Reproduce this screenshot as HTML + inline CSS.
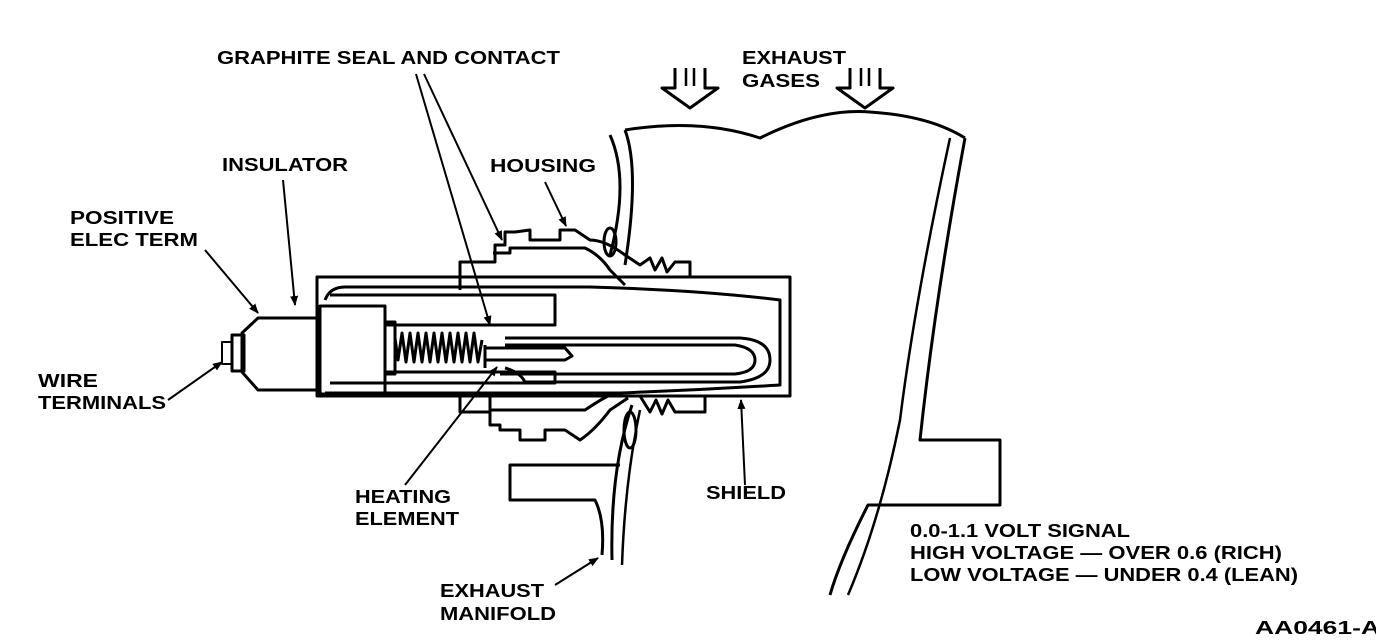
<!DOCTYPE html>
<html><head><meta charset="utf-8"><style>
html,body{margin:0;padding:0;background:#fff;width:1376px;height:640px;overflow:hidden}
text{font-family:"Liberation Sans",Arial,sans-serif;font-weight:bold;font-size:18px;fill:#000}
</style></head><body>
<svg width="1376" height="640" viewBox="0 0 1376 640" xmlns="http://www.w3.org/2000/svg">
<defs><marker id="a" markerWidth="10" markerHeight="10" refX="9" refY="5" orient="auto" markerUnits="userSpaceOnUse"><path d="M0,1 L10,5 L0,9 Z" fill="#000"/></marker></defs>
<g fill="none" stroke="#000" stroke-width="3" stroke-linejoin="round">
<!-- exhaust arrows -->
<path d="M675,68 V88 H662 L690,108 L718,88 H705 V68" />
<path d="M686,68 V86 M694,68 V86" stroke-width="2.5"/>
<path d="M850,68 V88 H837 L865,108 L893,88 H880 V68"/>
<path d="M861,68 V86 M869,68 V86" stroke-width="2.5"/>
<!-- manifold upper wall -->
<path d="M625,130 Q700,118 760,138 Q820,108 870,112 Q930,116 965,138"/>
<path d="M625,130 Q640,170 625,265"/>
<path d="M610,135 Q630,180 610,255"/>
<path d="M965,138 Q935,300 920,440 H1000 V505 H868 Q840,560 830,595"/>
<path d="M950,138 Q915,300 900,420 Q880,520 848,595" stroke-width="2.5"/>
<!-- manifold lower -->
<path d="M632,405 Q610,470 612,560"/>
<path d="M640,410 Q625,480 622,565" stroke-width="2.5"/>
<path d="M620,465 H510 V500 H595 Q605,520 602,555"/>
<!-- housing upper -->
<path d="M460,290 V262 H495 V245 H505 V232 H515 L530,230 V240 H560 V230 H575 L590,240 Q605,240 625,255 L640,265 L650,258 L655,270 L662,258 L667,272 L675,262 H690 V276"/>
<path d="M493,253 H510 V248 H585 Q600,255 610,270 L625,285"/>
<ellipse cx="610" cy="242" rx="6" ry="14"/>
<!-- housing lower -->
<path d="M460,396 V412 H490 V425 H500 V430 H520 V440 H545 V430 H565 L580,440 Q595,430 610,410 L628,398"/>
<path d="M490,396 V410 H585 Q600,400 608,396"/>
<path d="M640,396 L650,412 L656,400 L662,414 L668,400 L675,412 H705 V396"/>
<ellipse cx="630" cy="430" rx="6" ry="18"/>
<!-- outer shield rect -->
<rect x="317" y="277" width="473" height="119"/>
<path d="M325,300 Q330,287 345,287 H590 Q700,290 780,300 V385 Q700,390 620,393 H325"/>
<path d="M330,295 H555 V325 H480"/>
<path d="M330,383 H555 V372 H480"/>
<path d="M480,325 H385 M480,372 H385"/>
<!-- inner element U -->
<path d="M505,338 H740 Q770,340 770,360 Q770,378 740,382 H525 Q520,372 505,368"/>
<path d="M505,345 H735 Q755,348 755,360 Q755,372 735,374 H500"/>
<path d="M485,345 V368 M485,360 H565 L572,356 L565,348 H485"/>
<!-- spring -->
<path d="M395,338 L398,360 L402,333 L406,362 L410,333 L414,362 L418,333 L422,362 L426,333 L430,362 L434,333 L438,362 L442,333 L446,362 L450,333 L454,362 L458,333 L462,362 L466,333 L470,362 L474,333 L478,362 L482,340"/>
<!-- insulator block & connector -->
<rect x="320" y="306" width="65" height="88"/>
<rect x="385" y="322" width="10" height="52"/>
<path d="M317,318 H258 L242,333 V372 L258,390 H317"/>
<rect x="232" y="335" width="12" height="36"/>
<rect x="222" y="342" width="10" height="22" stroke-width="2"/>
<!-- leader lines -->
<g stroke-width="2" marker-end="url(#a)">
<line x1="416" y1="74" x2="490" y2="325"/>
<line x1="424" y1="74" x2="502" y2="240"/>
<line x1="283" y1="180" x2="295" y2="305"/>
<line x1="545" y1="182" x2="566" y2="226"/>
<line x1="205" y1="250" x2="258" y2="313"/>
<line x1="168" y1="400" x2="222" y2="362"/>
<line x1="405" y1="485" x2="497" y2="367"/>
<line x1="745" y1="485" x2="741" y2="400"/>
<line x1="555" y1="585" x2="598" y2="558"/>
</g>
</g>
<text x="217" y="64" textLength="343" lengthAdjust="spacingAndGlyphs">GRAPHITE SEAL AND CONTACT</text>
<text x="742" y="64" textLength="104" lengthAdjust="spacingAndGlyphs">EXHAUST</text>
<text x="742" y="87" textLength="78" lengthAdjust="spacingAndGlyphs">GASES</text>
<text x="222" y="171" textLength="126" lengthAdjust="spacingAndGlyphs">INSULATOR</text>
<text x="490" y="172" textLength="106" lengthAdjust="spacingAndGlyphs">HOUSING</text>
<text x="70" y="224" textLength="104" lengthAdjust="spacingAndGlyphs">POSITIVE</text>
<text x="70" y="246" textLength="128" lengthAdjust="spacingAndGlyphs">ELEC TERM</text>
<text x="38" y="387" textLength="60" lengthAdjust="spacingAndGlyphs">WIRE</text>
<text x="38" y="409" textLength="128" lengthAdjust="spacingAndGlyphs">TERMINALS</text>
<text x="355" y="503" textLength="96" lengthAdjust="spacingAndGlyphs">HEATING</text>
<text x="355" y="525" textLength="104" lengthAdjust="spacingAndGlyphs">ELEMENT</text>
<text x="706" y="499" textLength="80" lengthAdjust="spacingAndGlyphs">SHIELD</text>
<text x="910" y="537" textLength="220" lengthAdjust="spacingAndGlyphs">0.0-1.1 VOLT SIGNAL</text>
<text x="910" y="559" textLength="372" lengthAdjust="spacingAndGlyphs">HIGH VOLTAGE — OVER 0.6 (RICH)</text>
<text x="910" y="581" textLength="388" lengthAdjust="spacingAndGlyphs">LOW VOLTAGE — UNDER 0.4 (LEAN)</text>
<text x="440" y="597" textLength="104" lengthAdjust="spacingAndGlyphs">EXHAUST</text>
<text x="440" y="620" textLength="116" lengthAdjust="spacingAndGlyphs">MANIFOLD</text>
<text x="1255" y="634" textLength="125" lengthAdjust="spacingAndGlyphs">AA0461-A</text>
</svg>
</body></html>
